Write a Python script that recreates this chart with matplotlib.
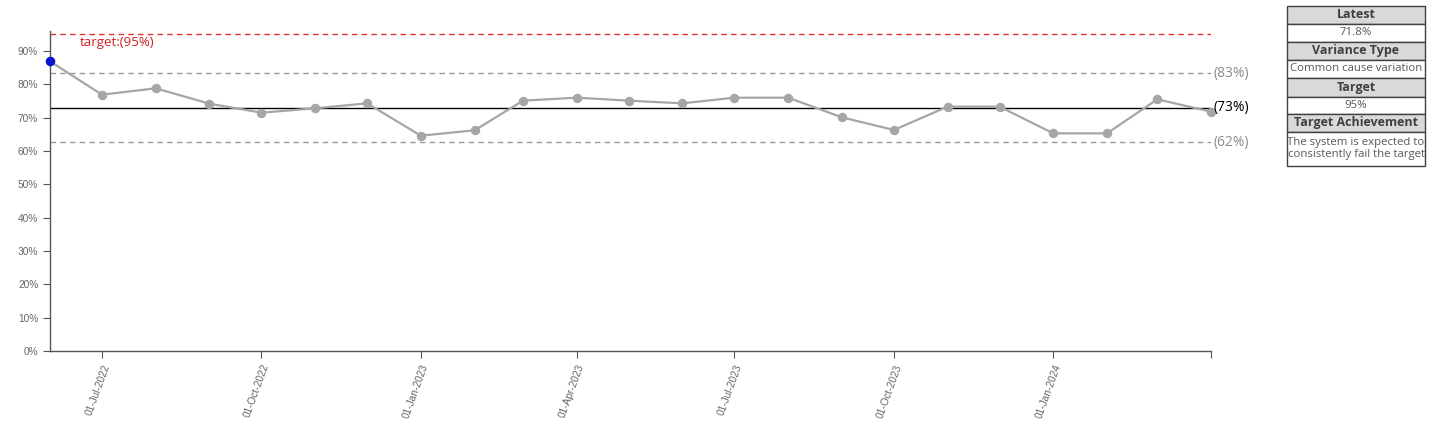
import matplotlib
matplotlib.use('Agg')
import matplotlib.pyplot as plt
from matplotlib.patches import Rectangle
import numpy as np
import pandas as pd

# ── data ────────────────────────────────────────────────────────────
months = pd.date_range('2022-06-01', '2024-04-01', freq='MS')
values = [86.9, 76.9, 78.8, 74.2, 71.5, 72.8, 74.3, 64.6, 66.2, 75.1, 76.0, 75.1,
          74.3, 76.0, 76.0, 70.1, 66.3, 73.3, 73.3, 65.3, 65.3, 75.5, 71.8]
mean_val = 73.0
ucl_val = 83.4
lcl_val = 62.6
target_val = 95.0
tick_dates = pd.to_datetime(['2022-07-01', '2022-10-01', '2023-01-01', '2023-04-01',
                             '2023-07-01', '2023-10-01', '2024-01-01'])
table_rows = [
    ('Latest', '71.8%'),
    ('Variance Type', 'Common cause variation'),
    ('Target', '95%'),
    ('Target Achievement', 'The system is expected to\nconsistently fail the target'),
]

W, H = 1431, 421
fig = plt.figure(figsize=(W / 100, H / 100), dpi=100)
fig.patch.set_facecolor('white')

# ── main chart ──────────────────────────────────────────────────────
ax = fig.add_axes([50 / W, 1 - 351 / H, (1211 - 50) / W, (351 - 31) / H])
ax.set_xlim(months[0], months[-1])
ax.set_ylim(0, 96)

ax.axhline(target_val, color='#E03030', lw=1.0, ls=(0, (4, 3)), zorder=2)
ax.axhline(ucl_val, color='#9A9A9A', lw=1.0, ls=(0, (4, 3)), zorder=2)
ax.axhline(lcl_val, color='#9A9A9A', lw=1.0, ls=(0, (4, 3)), zorder=2)
ax.axhline(mean_val, color='black', lw=1.0, zorder=2)

ax.plot(months, values, color='#A6A6A6', lw=1.6, marker='o', ms=5.8,
        mfc='#A6A6A6', mec='#A6A6A6', zorder=3, clip_on=False)
ax.plot(months[:1], values[:1], ls='none', marker='o', ms=5.8,
        mfc='#0A12D0', mec='#0A12D0', zorder=4, clip_on=False)

ax.text(0.026, 92.5, 'target:(95%)', transform=ax.get_yaxis_transform(),
        ha='left', va='center', fontsize=9.5, color='#D02020', family='Open Sans')
for v, lbl, col in [(ucl_val, '(83%)', '#8C8C8C'), (mean_val, '(73%)', 'black'),
                    (lcl_val, '(62%)', '#8C8C8C')]:
    ax.text(1.002, v, lbl, transform=ax.get_yaxis_transform(), ha='left',
            va='center', fontsize=10, color=col, family='Open Sans')

ax.set_yticks(np.arange(0, 91, 10))
ax.set_yticklabels([f'{t}%' for t in range(0, 91, 10)])
ax.set_xticks(list(tick_dates) + [months[-1]])
ax.set_xticklabels([d.strftime('%d-%b-%Y') for d in tick_dates] + [''])
for lab in ax.get_xticklabels():
    lab.set_rotation(70)
    lab.set_ha('right')
    lab.set_va('top')
    lab.set_rotation_mode('anchor')
ax.tick_params(axis='both', colors='#555555', labelsize=7.3, length=5, width=0.8,
               labelcolor='#666666')
for lab in ax.get_xticklabels() + ax.get_yticklabels():
    lab.set_family('Liberation Sans')

for s in ['top', 'right']:
    ax.spines[s].set_visible(False)
for s in ['left', 'bottom']:
    ax.spines[s].set_color('#555555')
    ax.spines[s].set_linewidth(1.0)

# ── summary table ───────────────────────────────────────────────────
tx = fig.add_axes([0, 0, 1, 1])
tx.set_xlim(0, W)
tx.set_ylim(H, 0)
tx.axis('off')
tx.patch.set_alpha(0)

x0, x1 = 1287, 1425
row_edges = [6, 24, 41.5, 60, 77.5, 96.5, 113.5, 131.5, 166]
for i, (head, val) in enumerate(table_rows):
    ya, yb, yc = row_edges[2 * i], row_edges[2 * i + 1], row_edges[2 * i + 2]
    tx.add_patch(Rectangle((x0, ya), x1 - x0, yb - ya, fc='#D9D9D9', ec='#404040', lw=1.0))
    tx.add_patch(Rectangle((x0, yb), x1 - x0, yc - yb, fc='white', ec='#404040', lw=1.0))
    tx.text((x0 + x1) / 2, (ya + yb) / 2, head, ha='center', va='center',
            fontsize=9, fontweight='bold', color='#404040', family='Open Sans')
    tx.text((x0 + x1) / 2, (yb + yc) / 2, val, ha='center', va='center',
            fontsize=8.2, color='#595959', family='Open Sans', linespacing=1.15)

fig.savefig('out.png', dpi=100, facecolor='white')
